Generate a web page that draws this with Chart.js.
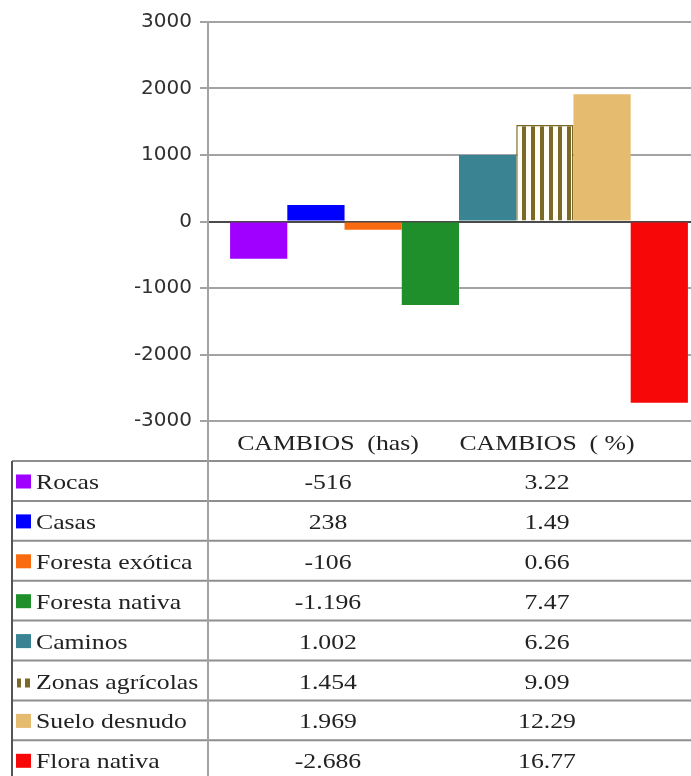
<!DOCTYPE html>
<html>
<head>
<meta charset="utf-8">
<script src="https://cdn.jsdelivr.net/npm/chart.js@4.4.0/dist/chart.umd.min.js"></script>
<style>
  html, body { margin: 0; padding: 0; background: #fff; overflow: hidden; }
  #wrap { position: relative; width: 712px; height: 776px; }
</style>
</head>
<body>
<div id="wrap"><canvas id="chart"></canvas></div>
<script>
// series (one bar each, Excel style: a single category group)
const seriesNames = ['Rocas', 'Casas', 'Foresta exótica', 'Foresta nativa', 'Caminos', 'Zonas agrícolas', 'Suelo desnudo', 'Flora nativa'];
// bar heights as drawn in the picture
const barValues = [-560, 250, -125, -1255, 1000, 1450, 1915, -2725];
// values printed in the data table
const tableHas = [-516, 238, -106, -1196, 1002, 1454, 1969, -2686];
const tablePct = [3.22, 1.49, 0.66, 7.47, 6.26, 9.09, 12.29, 16.77];
const columnHeaders = ['CAMBIOS  (has)', 'CAMBIOS  ( %)'];
const yMin = -3000, yMax = 3000, yStep = 1000;
const seriesColors = ['#9f00ff', '#0000ff', '#fa6a0f', '#1f8f2b', '#398392', '#7b6a27', '#e5bb6f', '#f70707'];

const OLIVE = '#7b6a27';
const GRID = '#a3a3a3';
const SERIF = '22px "Liberation Serif", "Times New Roman", "DejaVu Serif", serif';

function stripePattern() {
  const c = document.createElement('canvas');
  c.width = 9; c.height = 10;
  const g = c.getContext('2d');
  g.fillStyle = '#fffdf6';
  g.fillRect(0, 0, 9, 10);
  g.fillStyle = OLIVE;
  g.fillRect(0, 0, 4, 10);
  return g.createPattern(c, 'repeat');
}

// Spanish style thousands: 1.196
function fmtHas(n) {
  const s = String(Math.abs(n));
  const body = s.length > 3 ? s.slice(0, s.length - 3) + '.' + s.slice(-3) : s;
  return (n < 0 ? '-' : '') + body;
}

function wideText(ctx, text, x, y, align) {
  ctx.save();
  ctx.font = SERIF;
  ctx.translate(x, y);
  ctx.scale(1.17, 1);
  ctx.textAlign = align;
  ctx.textBaseline = 'alphabetic';
  ctx.fillText(text, 0, 0);
  ctx.restore();
}

const dataTable = {
  id: 'dataTable',
  afterDraw(chart) {
    const ctx = chart.ctx;
    const area = chart.chartArea;
    const top = area.bottom + 40;
    const rowH = 39.9;
    const colHas = area.left + 120;
    const colPct = area.left + 339;

    ctx.save();
    ctx.lineWidth = 2;
    ctx.strokeStyle = '#8e8e8e';
    for (let i = 0; i <= seriesNames.length; i++) {
      const y = top + i * rowH;
      ctx.beginPath(); ctx.moveTo(12, y); ctx.lineTo(chart.width, y); ctx.stroke();
    }
    ctx.strokeStyle = GRID;
    ctx.beginPath(); ctx.moveTo(area.left, area.bottom); ctx.lineTo(area.left, chart.height); ctx.stroke();
    ctx.strokeStyle = '#555';
    ctx.beginPath(); ctx.moveTo(12, top); ctx.lineTo(12, chart.height); ctx.stroke();

    ctx.fillStyle = '#222';
    wideText(ctx, columnHeaders[0], colHas, area.bottom + 29, 'center');
    wideText(ctx, columnHeaders[1], colPct, area.bottom + 29, 'center');

    seriesNames.forEach((name, i) => {
      const rt = top + i * rowH;
      if (i === 5) {
        ctx.fillStyle = OLIVE;
        ctx.fillRect(17, rt + 18, 4, 9);
        ctx.fillRect(25, rt + 18, 5, 9);
      } else {
        ctx.fillStyle = seriesColors[i];
        ctx.fillRect(16, rt + 13.5, 15, 14);
      }
      ctx.fillStyle = '#222';
      wideText(ctx, name, 36, rt + 28, 'left');
      wideText(ctx, fmtHas(tableHas[i]), colHas, rt + 28, 'center');
      wideText(ctx, tablePct[i].toFixed(2), colPct, rt + 28, 'center');
    });
    ctx.restore();
  }
};

const pattern = stripePattern();

new Chart(document.getElementById('chart'), {
  type: 'bar',
  data: {
    labels: [''],
    datasets: seriesNames.map((name, i) => ({
      label: name,
      data: [barValues[i]],
      backgroundColor: i === 5 ? pattern : seriesColors[i],
      borderColor: i === 5 ? OLIVE : seriesColors[i],
      borderWidth: i === 5 ? 1.5 : 0,
      barPercentage: 1,
      categoryPercentage: 0.912
    }))
  },
  options: {
    responsive: true,
    maintainAspectRatio: false,
    animation: false,
    layout: { padding: { top: 22, bottom: 355, left: 0, right: 2 } },
    plugins: { legend: { display: false }, tooltip: { enabled: false } },
    scales: {
      x: { display: false },
      y: {
        min: yMin, max: yMax,
        afterFit: s => { s.width = 208; },
        border: { display: true, color: GRID, width: 2 },
        grid: {
          color: c => c.tick && c.tick.value === 0 ? '#4a4a4a' : GRID,
          lineWidth: 2,
          tickLength: 8,
          tickColor: GRID
        },
        ticks: {
          stepSize: yStep,
          padding: 8,
          color: '#303030',
          font: { family: '"DejaVu Sans", sans-serif', size: 20 },
          callback: v => String(v)
        }
      }
    }
  },
  plugins: [dataTable]
});
</script>
</body>
</html>
